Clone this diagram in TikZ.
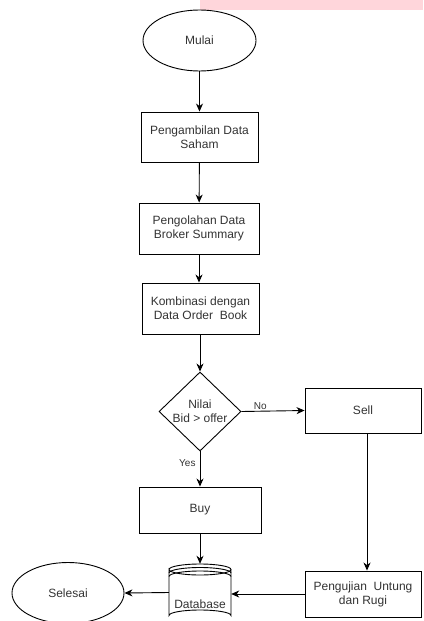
\documentclass[tikz,border=0pt]{standalone}
\usepackage{fontspec}
\setmainfont{Liberation Sans}
\usetikzlibrary{shapes.geometric,arrows.meta}
\definecolor{txtgray}{RGB}{51,51,51}
\definecolor{bandpink}{RGB}{255,214,219}
\tikzset{
  terminal/.style={ellipse,draw,line width=0.9pt,minimum width=113pt,minimum height=61pt,inner sep=0pt,text=txtgray},
  procbox/.style={rectangle,draw,line width=0.9pt,minimum width=118pt,minimum height=50pt,inner sep=0pt,align=center,text=txtgray},
  decision/.style={diamond,draw,line width=0.9pt,minimum width=82pt,minimum height=79pt,inner sep=0pt,align=center,text=txtgray},
  flow/.style={line width=0.9pt,-{Stealth[length=8pt,width=7pt,inset=2.5pt]}},
  edgelabel/.style={font=\fontsize{10}{12}\selectfont,text=txtgray,inner sep=1pt}
}
\begin{document}
\begin{tikzpicture}[x=1pt,y=-1pt,font=\fontsize{12}{14}\selectfont]
\useasboundingbox (0,0) rectangle (423,621);
\fill[bandpink] (200,0) rectangle (423,9.5);

\node[terminal] (mulai) at (199.5,40.5) {Mulai};
\node[procbox,minimum width=117pt] (ambil) at (199.5,137) {Pengambilan Data\\Saham};
\node[procbox,minimum width=120pt,minimum height=51pt] (olah) at (199,228.5) {Pengolahan Data\\Broker Summary};
\node[procbox,minimum width=117pt,minimum height=51pt] (kombinasi) at (200.5,308.5) {Kombinasi dengan\\Data Order\ \ Book};
\node[decision] (nilai) at (200,411.5) {Nilai\\Bid > offer};
\node[procbox,minimum width=116pt,minimum height=45pt] (sell) at (363,410.5) {Sell};
\node[procbox,minimum width=122pt,minimum height=46pt] (buy) at (200,510) {Buy};
\node[procbox,minimum width=116pt,minimum height=46pt] (uji) at (363,594) {Pengujian\ \ Untung\\dan Rugi};
\node[minimum width=62pt,minimum height=57pt,inner sep=0pt,text=txtgray] (db) at (200,592.5) {};
\node[terminal,minimum width=112pt] (selesai) at (68,593) {Selesai};

% database cylinder
\draw[line width=0.9pt,fill=white] (169,569.5) arc[start angle=180,end angle=360,x radius=31,y radius=5.5]
  arc[start angle=0,end angle=180,x radius=31,y radius=5.5] -- (169,615.5)
  arc[start angle=180,end angle=360,x radius=31,y radius=5.5] -- (231,569.5);
\draw[line width=0.9pt] (169,573) arc[start angle=180,end angle=360,x radius=31,y radius=5.5];
\draw[line width=0.9pt] (169,576.5) arc[start angle=180,end angle=360,x radius=31,y radius=5.5];
\node[text=txtgray] at ([yshift=-11.5pt]db.center) {Database};

\draw[flow] (mulai) -- (ambil);
\draw[flow] (ambil) -- (olah);
\draw[flow] (olah.south) -- (olah.south |- kombinasi.north);
\draw[flow] (kombinasi.south -| nilai.north) -- (nilai.north);
\draw[flow] (nilai.east) -- node[edgelabel,above,pos=0.3] {No} (sell.west);
\draw[flow] (nilai.south) -- node[edgelabel,left,pos=0.33,xshift=-3pt] {Yes} (buy.north);
\draw[flow] ([xshift=4pt]sell.south) -- ([xshift=4pt]uji.north);
\draw[flow] (buy.south) -- (db.north);
\draw[flow] (uji.west) -- (db.east |- uji.west);
\draw[flow] (db.west) -- (selesai.east);
\end{tikzpicture}
\end{document}
